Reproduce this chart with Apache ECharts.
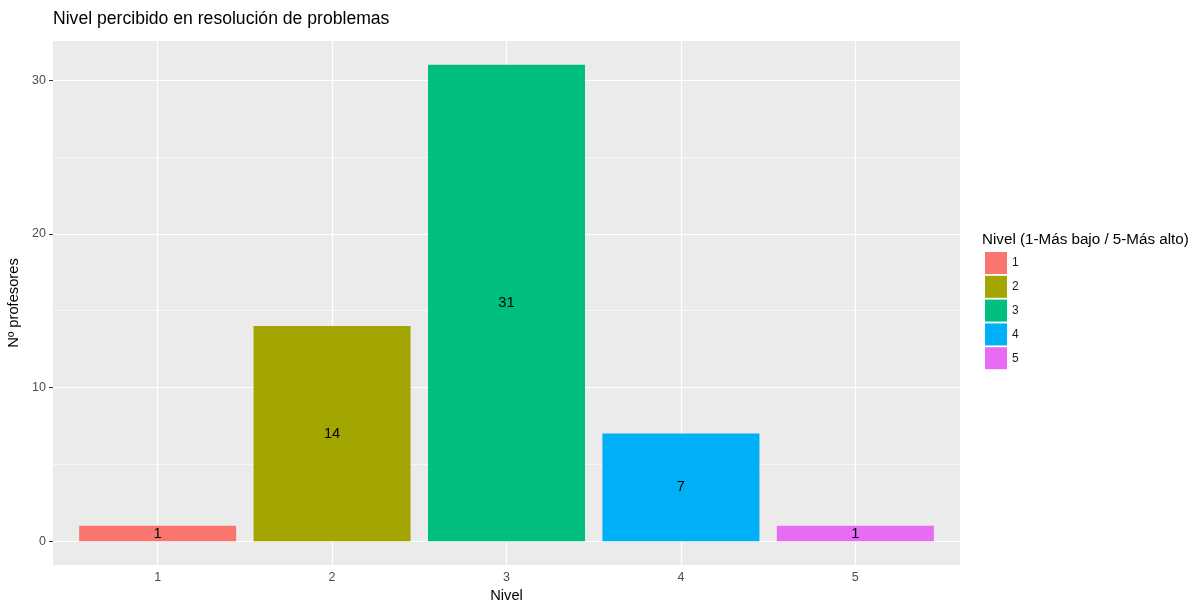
<!DOCTYPE html>
<html>
<head>
<meta charset="utf-8">
<script src="https://cdn.jsdelivr.net/npm/echarts@6/dist/echarts.min.js"></script>
<style>html,body{margin:0;padding:0;background:#fff;}#chart{width:1199px;height:603px;}</style>
</head>
<body>
<div id="chart"></div>
<script>
const categories = [1, 2, 3, 4, 5];
const counts = [1, 14, 31, 7, 1];
const seriesNames = ['1', '2', '3', '4', '5'];
const colors = ['#F8766D', '#A3A500', '#00BF7D', '#00B0F6', '#E76BF3'];
const yTicks = [0, 10, 20, 30];
const yMinor = [5, 15, 25];
const titleText = 'Nivel percibido en resolución de problemas';
const xTitle = 'Nivel';
const yTitle = 'Nº profesores';
const legendTitle = 'Nivel (1-Más bajo / 5-Más alto)';

const FONT = '"Liberation Sans", Arial, Helvetica, sans-serif';
const chart = echarts.init(document.getElementById('chart'), null, {renderer: 'canvas'});

const barSeries = categories.map((c, i) => ({
  name: seriesNames[i],
  type: 'bar',
  data: [[c, counts[i]]],
  barWidth: 157,
  barGap: '-100%',
  z: 10,
  itemStyle: {color: colors[i]},
  label: {show: true, position: 'inside', color: '#000', fontSize: 14.7, fontFamily: FONT},
  emphasis: {disabled: true}
}));

const gridLines = {
  type: 'scatter',
  data: [],
  silent: true,
  z: 1,
  markLine: {
    silent: true,
    z: 1,
    symbol: 'none',
    animation: false,
    label: {show: false},
    data: [
      ...yMinor.map(v => ({yAxis: v, lineStyle: {color: '#fff', width: 0.6, type: 'solid'}})),
      ...yTicks.map(v => ({yAxis: v, lineStyle: {color: '#fff', width: 1.2, type: 'solid'}})),
      ...categories.map(v => ({xAxis: v, lineStyle: {color: '#fff', width: 1.2, type: 'solid'}}))
    ]
  }
};

chart.setOption({
  animation: false,
  backgroundColor: '#fff',
  textStyle: {fontFamily: FONT},
  title: {
    text: titleText, left: 53, top: 10, padding: 0,
    textStyle: {fontSize: 17.6, fontWeight: 'normal', color: '#000', fontFamily: FONT}
  },
  grid: {
    left: 53, right: 239, top: 41, bottom: 38,
    show: true, backgroundColor: '#EBEBEB', borderWidth: 0,
    containLabel: false,
    outerBoundsMode: 'none'
  },
  legend: {
    orient: 'vertical',
    left: 985, top: 252,
    itemWidth: 22, itemHeight: 22, itemGap: 1.8,
    icon: 'rect',
    padding: 0,
    selectedMode: false,
    data: seriesNames,
    textStyle: {fontSize: 12, color: '#1a1a1a', fontFamily: FONT, padding: [0, 0, 0, 0]}
  },
  graphic: [{
    type: 'text', left: 982, top: 232,
    style: {text: legendTitle, fontSize: 15.2, fill: '#000', fontFamily: FONT}
  }],
  xAxis: {
    type: 'value', min: 0.4, max: 5.6,
    axisLine: {show: false},
    splitLine: {show: false},
    axisTick: {show: true, customValues: categories, length: 4, lineStyle: {color: '#333', width: 1}},
    axisLabel: {customValues: categories, color: '#4D4D4D', fontSize: 12.5, margin: 6, fontFamily: FONT},
    name: xTitle, nameLocation: 'middle', nameGap: 22,
    nameTextStyle: {fontSize: 14.7, color: '#000', fontFamily: FONT}
  },
  yAxis: {
    type: 'value', min: -1.55, max: 32.55,
    axisLine: {show: false},
    splitLine: {show: false},
    axisTick: {show: true, customValues: yTicks, length: 4, lineStyle: {color: '#333', width: 1}},
    axisLabel: {customValues: yTicks, color: '#4D4D4D', fontSize: 12.5, margin: 7, fontFamily: FONT},
    name: yTitle, nameLocation: 'middle', nameGap: 25, nameRotate: 90,
    nameTextStyle: {fontSize: 14.7, color: '#000', fontFamily: FONT}
  },
  series: [gridLines, ...barSeries]
});
</script>
</body>
</html>
